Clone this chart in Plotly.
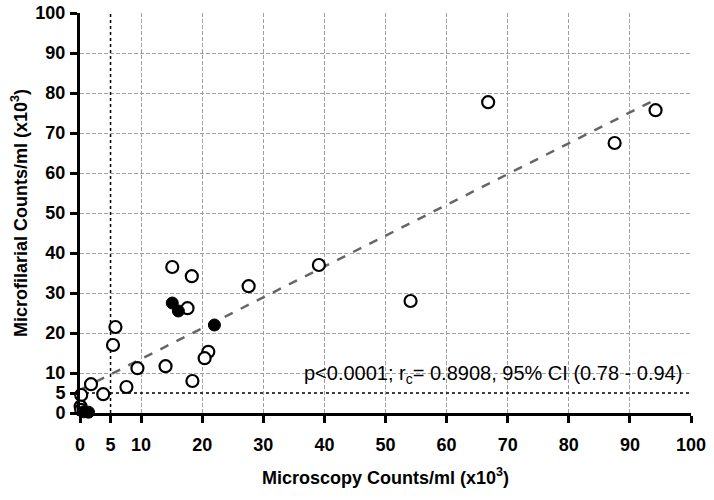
import plotly.graph_objects as go

# Open circles (microscopy x, microfilarial y), in thousands
open_x = [94.2, 87.5, 66.8, 39.1, 54.1, 27.6, 15.1, 18.3, 17.6, 5.8, 5.4, 9.4, 14.0, 21.0, 20.4, 18.4, 7.6, 3.8, 1.8, 0.2, 0.1, 0.2]
open_y = [75.7, 67.5, 77.7, 37.0, 28.0, 31.7, 36.5, 34.2, 26.2, 21.5, 17.0, 11.2, 11.7, 15.3, 13.7, 8.0, 6.5, 4.7, 7.2, 4.5, 1.6, 0.8]
# Filled circles
filled_x = [15.1, 16.1, 22.0, 0.6, 1.4]
filled_y = [27.5, 25.5, 22.0, 0.3, 0.2]
# Regression line endpoints
line_x = [0, 94.5]
line_y = [5.8, 78.6]
# Cut-off reference
cutoff = 5
tick_vals = [0, 5, 10, 20, 30, 40, 50, 60, 70, 80, 90, 100]
tick_text = [str(v) for v in tick_vals]
annot_text = "p<0.0001; r<sub>c</sub>= 0.8908, 95% CI (0.78 - 0.94)"

FONT = "Liberation Sans, Arial"

fig = go.Figure()
# cut-off dotted lines
fig.add_trace(go.Scatter(x=[cutoff, cutoff], y=[0, 100], mode="lines",
                         line=dict(color="black", width=1.5, dash="dot"), hoverinfo="skip"))
fig.add_trace(go.Scatter(x=[0, 100], y=[cutoff, cutoff], mode="lines",
                         line=dict(color="black", width=1.5, dash="dot"), hoverinfo="skip"))
fig.add_trace(go.Scatter(x=line_x, y=line_y, mode="lines",
                         line=dict(color="#666666", width=2.5, dash="dash")))
fig.add_trace(go.Scatter(x=open_x, y=open_y, mode="markers", cliponaxis=False,
                         marker=dict(symbol="circle", size=12, color="white",
                                     line=dict(color="black", width=2.2))))
fig.add_trace(go.Scatter(x=filled_x, y=filled_y, mode="markers", cliponaxis=False,
                         marker=dict(symbol="circle", size=12, color="black",
                                     line=dict(color="black", width=1))))

fig.add_annotation(x=98.9, y=9.7, xref="x", yref="y", text=annot_text, showarrow=False,
                   xanchor="right", yanchor="middle",
                   font=dict(family=FONT, size=20, color="black"))

axis_common = dict(
    range=[0, 100], tickvals=tick_vals, ticktext=tick_text,
    showline=True, linecolor="black", linewidth=3,
    ticks="outside", ticklen=7, tickwidth=2.5, tickcolor="black",
    showgrid=False, zeroline=False, automargin=False, ticklabeloverflow="allow",
    tickfont=dict(family=FONT, size=18, color="black", weight="bold"),
    minor=dict(tick0=0, dtick=10, showgrid=True, gridcolor="#a0a0a0", griddash="4px,2px",
               gridwidth=1, ticks=""),
)

fig.update_layout(
    width=714, height=500,
    margin=dict(l=80, r=23, t=13, b=87),
    plot_bgcolor="white", paper_bgcolor="white",
    showlegend=False,
    xaxis=dict(**axis_common, ticklabelstandoff=6,
               title=dict(text="Microscopy Counts/ml (x10<sup>3</sup>)", standoff=18,
                          font=dict(family=FONT, size=18, color="black", weight="bold"))),
    yaxis=dict(**axis_common, ticklabelstandoff=1,
               title=dict(text="Microfilarial Counts/ml (x10<sup>3</sup>)", standoff=4,
                          font=dict(family=FONT, size=18, color="black", weight="bold"))),
)

# remove the browser's default 8px page margin so the figure fills the window
fig.write_html("out.html", config={"displayModeBar": False},
               post_script="document.body.style.margin='0';")
